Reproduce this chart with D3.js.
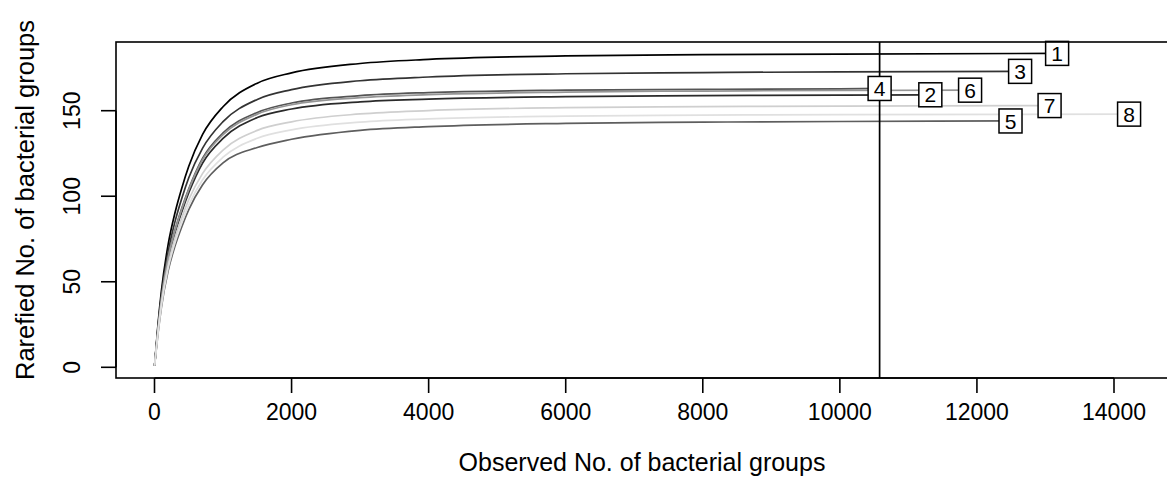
<!DOCTYPE html>
<html>
<head>
<meta charset="utf-8">
<script src="https://cdn.jsdelivr.net/npm/d3@7"></script>
<style>
  body { margin: 0; background: #fff; }
  svg { display: block; font-family: "Liberation Sans", Arial, Helvetica, sans-serif; }
</style>
</head>
<body>
<svg width="1167" height="501"></svg>
<script>
var WIDTH = 1167;
var HEIGHT = 501;

// sample labels, total reads (end of curve) and rarefied richness
var samples = ["1", "2", "3", "4", "5", "6", "7", "8"];
var sampleSizes = [13170, 11320, 12630, 10580, 12490, 11900, 13060, 14220];
var subsample = [1, 50, 100, 200, 300, 400, 500, 700, 1000, 1500, 2000, 3000, 4000, 6000, 8000, 10000];

var rich1 = [1, 24.6, 44.4, 72.0, 90.5, 105.0, 117.5, 136.0, 152.3, 166.1, 172.1, 177.6, 180.0, 182.0, 182.8, 183.1, 183.5];
var rich2 = [1, 21.6, 38.9, 63.2, 78.6, 91.1, 102.0, 119.3, 133.8, 146.0, 151.0, 155.2, 156.8, 158.2, 158.8, 159.1, 159.3];
var rich3 = [1, 23.3, 41.9, 67.8, 85.3, 99.0, 110.8, 128.0, 143.6, 156.6, 162.3, 167.5, 169.7, 171.6, 172.3, 172.7, 173.0];
var rich4 = [1, 22.2, 39.9, 64.7, 80.4, 93.2, 104.3, 122.1, 137.0, 149.0, 154.5, 158.8, 160.6, 162.0, 162.5, 162.8, 163.0];
var rich5 = [1, 19.4, 34.9, 56.5, 71.0, 82.4, 92.2, 106.6, 119.5, 128.5, 133.3, 138.5, 140.7, 142.6, 143.3, 143.7, 144.0];
var rich6 = [1, 22.0, 39.6, 64.2, 79.9, 92.7, 103.8, 121.2, 136.0, 148.0, 153.5, 157.6, 159.4, 160.9, 161.5, 161.8, 162.0];
var rich7 = [1, 20.6, 37.1, 60.0, 75.5, 87.6, 98.0, 113.2, 127.0, 138.5, 143.5, 148.1, 150.1, 151.8, 152.4, 152.7, 153.0];
var rich8 = [1, 19.9, 35.9, 58.1, 73.0, 84.7, 94.8, 109.5, 122.8, 133.9, 138.8, 143.3, 145.2, 146.8, 147.4, 147.7, 148.0];
var richness = [rich1, rich2, rich3, rich4, rich5, rich6, rich7, rich8];

var sampleLine = 10580;
var xTicks = [0, 2000, 4000, 6000, 8000, 10000, 12000, 14000];
var yTicks = [0, 50, 100, 150];

var lineColors = ["#000000", "#2a2a2a", "#333333", "#555555", "#5e5e5e", "#959595", "#cfcfcf", "#e0e0e0"];

//scales
var x = d3.scaleLinear().domain([0, 14000]).range([154.5, 1114]);
var y = d3.scaleLinear().domain([0, 150]).range([367.3, 110.7]);

var box = { left: 116, top: 42, right: 1168, bottom: 378 };

var svg = d3.select("svg").attr("width", WIDTH).attr("height", HEIGHT);

//curves
var line = d3.line()
  .x(function (d) { return x(d[0]); })
  .y(function (d) { return y(d[1]); })
  .curve(d3.curveMonotoneX);

var curves = samples.map(function (s, i) {
  var ns = subsample.filter(function (n) { return n < sampleSizes[i]; }).concat([sampleSizes[i]]);
  return ns.map(function (n, j) { return [n, richness[i][j === ns.length - 1 ? richness[i].length - 1 : j]]; });
});

svg.append("g")
  .selectAll("path")
  .data(curves)
  .enter()
  .append("path")
  .attr("d", line)
  .style("fill", "none")
  .style("stroke", function (d, i) { return lineColors[i]; })
  .style("stroke-width", "1.7px");

//vertical line at the subsample size
svg.append("line")
  .attr("x1", x(sampleLine)).attr("x2", x(sampleLine))
  .attr("y1", box.top).attr("y2", box.bottom)
  .style("stroke", "#000")
  .style("stroke-width", "1.7px");

//boxed labels at curve ends
var labels = svg.append("g")
  .selectAll("g")
  .data(samples)
  .enter()
  .append("g")
  .attr("transform", function (d, i) {
    return "translate(" + x(sampleSizes[i]) + "," + y(richness[i][richness[i].length - 1]) + ")";
  });

labels.append("rect")
  .attr("x", -11.5).attr("y", -12)
  .attr("width", 23).attr("height", 24)
  .style("fill", "#fff")
  .style("stroke", "#000")
  .style("stroke-width", "1.5px");

labels.append("text")
  .attr("text-anchor", "middle")
  .attr("dy", "0.36em")
  .style("font-size", "21px")
  .text(function (d) { return d; });

//plot frame
svg.append("rect")
  .attr("x", box.left).attr("y", box.top)
  .attr("width", box.right - box.left).attr("height", box.bottom - box.top)
  .style("fill", "none")
  .style("stroke", "#000")
  .style("stroke-width", "1.6px");

//x axis
var xAxis = svg.append("g");
xAxis.append("line")
  .attr("x1", x(0)).attr("x2", x(14000))
  .attr("y1", box.bottom).attr("y2", box.bottom)
  .style("stroke", "#000").style("stroke-width", "1.6px");
xAxis.selectAll(".tick")
  .data(xTicks)
  .enter()
  .append("line")
  .attr("x1", function (d) { return x(d); }).attr("x2", function (d) { return x(d); })
  .attr("y1", box.bottom).attr("y2", box.bottom + 15)
  .style("stroke", "#000").style("stroke-width", "1.6px");
xAxis.selectAll("text")
  .data(xTicks)
  .enter()
  .append("text")
  .attr("x", function (d) { return x(d); })
  .attr("y", 412)
  .attr("dy", "0.36em")
  .attr("text-anchor", "middle")
  .style("font-size", "23px")
  .text(function (d) { return d; });

//y axis
var yAxis = svg.append("g");
yAxis.append("line")
  .attr("x1", box.left).attr("x2", box.left)
  .attr("y1", y(0)).attr("y2", y(150))
  .style("stroke", "#000").style("stroke-width", "1.6px");
yAxis.selectAll(".tick")
  .data(yTicks)
  .enter()
  .append("line")
  .attr("x1", box.left - 15).attr("x2", box.left)
  .attr("y1", function (d) { return y(d); }).attr("y2", function (d) { return y(d); })
  .style("stroke", "#000").style("stroke-width", "1.6px");
yAxis.selectAll("text")
  .data(yTicks)
  .enter()
  .append("text")
  .attr("transform", function (d) { return "translate(72," + y(d) + ") rotate(-90)"; })
  .attr("dy", "0.36em")
  .attr("text-anchor", "middle")
  .style("font-size", "23px")
  .text(function (d) { return d; });

//axis titles
svg.append("text")
  .attr("x", (box.left + box.right) / 2)
  .attr("y", 462)
  .attr("dy", "0.36em")
  .attr("text-anchor", "middle")
  .style("font-size", "25px")
  .text("Observed No. of bacterial groups");

svg.append("text")
  .attr("transform", "translate(25,200) rotate(-90)")
  .attr("dy", "0.36em")
  .attr("text-anchor", "middle")
  .style("font-size", "25.5px")
  .text("Rarefied No. of bacterial groups");
</script>
</body>
</html>
